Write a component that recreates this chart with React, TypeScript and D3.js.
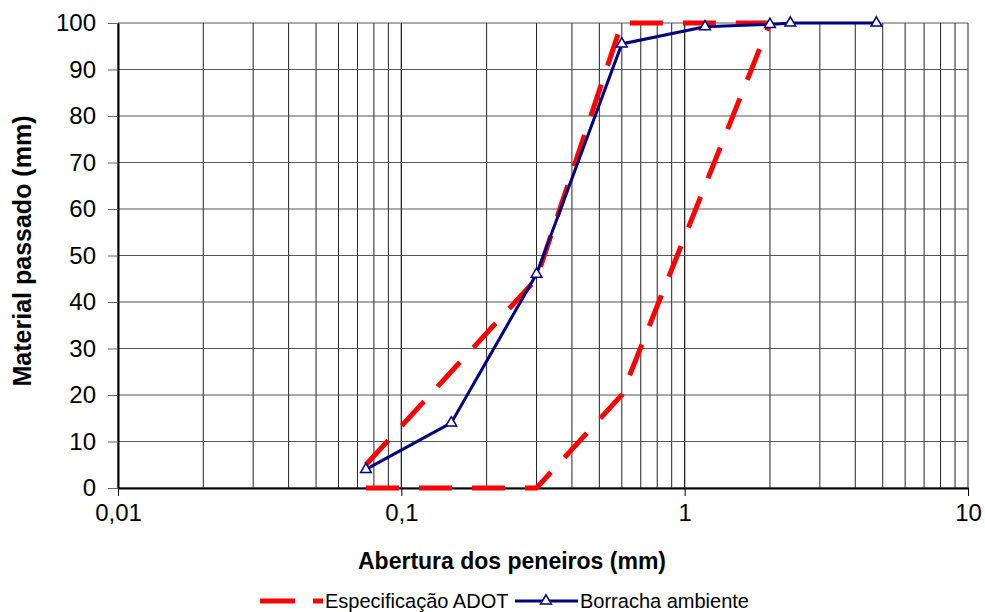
import * as d3 from 'd3'
import { useEffect, useRef } from 'react'

// ADOT specification envelope (sieve opening mm, % passing)
const specSieves = [0.075, 0.3, 0.6, 1.18, 2.0]
const specLower = [0, 0, 20, 65, 100]
const specUpper = [5, 45, 100, 100, 100]

// Ambient rubber gradation
const rubberSieves = [0.075, 0.15, 0.3, 0.6, 1.18, 2.0, 2.36, 4.75]
const rubberPassing = [4, 14, 46, 95.5, 99.2, 99.7, 100, 100]

const xTicks = [0.01, 0.1, 1, 10]
const xTickLabels = ['0,01', '0,1', '1', '10']
const yTicks = [0, 10, 20, 30, 40, 50, 60, 70, 80, 90, 100]

const App = () => {
  const ref = useRef<SVGSVGElement>(null)

  useEffect(() => {
    const width = 985
    const height = 612
    const margin = { top: 23, right: 17, bottom: 124, left: 118 }
    const font = '"Liberation Sans", Arial, sans-serif'

    const svg = d3.select(ref.current)
    svg.selectAll('*').remove()
    svg.attr('width', width).attr('height', height)

    const x = d3.scaleLog().domain([0.01, 10]).range([margin.left, width - margin.right])
    const y = d3.scaleLinear().domain([0, 100]).range([height - margin.bottom, margin.top])

    // vertical grid (minor log lines)
    const minor: number[] = []
    for (const dec of [0.01, 0.1, 1]) {
      for (let k = 1; k <= 10; k++) minor.push(dec * k)
    }
    svg
      .append('g')
      .selectAll('line')
      .data(minor)
      .join('line')
      .attr('x1', (d) => x(d))
      .attr('x2', (d) => x(d))
      .attr('y1', y(0))
      .attr('y2', y(100))
      .attr('stroke', '#222')
      .attr('stroke-width', 1)

    // horizontal grid
    svg
      .append('g')
      .selectAll('line')
      .data(yTicks)
      .join('line')
      .attr('x1', x(0.01))
      .attr('x2', x(10))
      .attr('y1', (d) => y(d))
      .attr('y2', (d) => y(d))
      .attr('stroke', '#555')
      .attr('stroke-width', 1)

    // axes
    svg
      .append('g')
      .attr('transform', `translate(0, ${y(0)})`)
      .attr('font-size', 24)
      .attr('font-family', font)
      .call(
        d3
          .axisBottom(x)
          .tickValues(xTicks)
          .tickFormat((d, i) => xTickLabels[i])
          .tickSize(8)
          .tickSizeOuter(0)
      )
      .call((g) => g.select('.domain').attr('stroke', '#000').attr('stroke-width', 2))
      .selectAll('text')
      .attr('y', 16)
      .style('font-family', font)
      .style('font-size', '24px')
      .attr('fill', '#000')

    svg
      .append('g')
      .attr('transform', `translate(${margin.left}, 0)`)
      .call(d3.axisLeft(y).tickValues(yTicks).tickSize(10).tickSizeOuter(0))
      .call((g) => g.select('.domain').attr('stroke', '#000').attr('stroke-width', 2))
      .call((g) => g.selectAll('.tick line').attr('stroke', '#666'))
      .selectAll('text')
      .attr('x', -22)
      .style('font-family', font)
      .style('font-size', '24px')
      .attr('fill', '#000')

    // spec envelope
    const specLine = d3
      .line<number>()
      .x((d, i) => x(specSieves[i]))
      .y((d) => y(d))
    for (const s of [specLower, specUpper]) {
      svg
        .append('path')
        .attr('d', specLine(s))
        .attr('fill', 'none')
        .attr('stroke', '#ff0000')
        .attr('stroke-width', 5)
        .attr('stroke-dasharray', '33,20')
    }

    // rubber
    const rubberLine = d3
      .line<number>()
      .x((d, i) => x(rubberSieves[i]))
      .y((d) => y(d))
    svg
      .append('path')
      .attr('d', rubberLine(rubberPassing))
      .attr('fill', 'none')
      .attr('stroke', '#000080')
      .attr('stroke-width', 3)

    const tri = d3.symbol().type(d3.symbolTriangle).size(50)
    svg
      .append('g')
      .selectAll('path')
      .data(rubberPassing)
      .join('path')
      .attr('d', tri())
      .attr('transform', (d, i) => `translate(${x(rubberSieves[i])}, ${y(d)})`)
      .attr('fill', '#fff')
      .attr('stroke', '#000080')
      .attr('stroke-width', 1.5)

    // axis titles
    svg
      .append('text')
      .attr('x', 512)
      .attr('y', 569)
      .attr('text-anchor', 'middle')
      .style('font-family', font)
      .style('font-size', '23px')
      .style('font-weight', 'bold')
      .text('Abertura dos peneiros (mm)')

    svg
      .append('text')
      .attr('transform', 'rotate(-90)')
      .attr('x', -251)
      .attr('y', 31)
      .attr('text-anchor', 'middle')
      .style('font-family', font)
      .style('font-size', '25px')
      .style('font-weight', 'bold')
      .text('Material passado (mm)')

    // legend
    const ly = 601
    const lg = svg.append('g')
    lg.append('line')
      .attr('x1', 260)
      .attr('x2', 323)
      .attr('y1', ly)
      .attr('y2', ly)
      .attr('stroke', '#ff0000')
      .attr('stroke-width', 5)
      .attr('stroke-dasharray', '35,18')
    lg.append('text')
      .attr('x', 325)
      .attr('y', ly + 7)
      .style('font-family', font)
      .style('font-size', '20px')
      .text('Especificação ADOT')
    lg.append('line')
      .attr('x1', 515)
      .attr('x2', 578)
      .attr('y1', ly)
      .attr('y2', ly)
      .attr('stroke', '#000080')
      .attr('stroke-width', 3)
    lg.append('path')
      .attr('d', tri())
      .attr('transform', `translate(546, ${ly})`)
      .attr('fill', '#fff')
      .attr('stroke', '#000080')
      .attr('stroke-width', 1.5)
    lg.append('text')
      .attr('x', 580)
      .attr('y', ly + 7)
      .style('font-family', font)
      .style('font-size', '20px')
      .text('Borracha ambiente')
  }, [])

  return (
    <div style={{ position: 'absolute', left: 0, top: 0 }}>
      <svg ref={ref}></svg>
    </div>
  )
}

export default App
